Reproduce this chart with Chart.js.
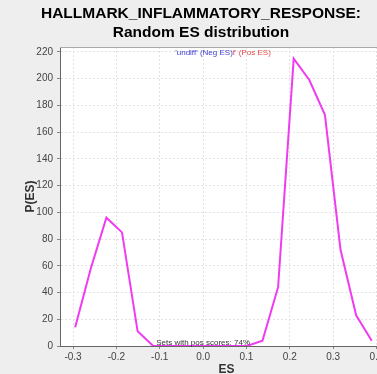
<!DOCTYPE html>
<html>
<head>
<meta charset="utf-8">
<script src="https://cdn.jsdelivr.net/npm/chart.js@4/dist/chart.umd.min.js"></script>
<style>
  html, body { margin: 0; padding: 0; background: #eeeeee; overflow: hidden; width: 377px; height: 374px; }
  #wrap { position: absolute; left: 0; top: 0; width: 420px; height: 374px; }
</style>
</head>
<body>
<div id="wrap"><canvas id="c" width="420" height="374"></canvas></div>
<script>
const titleLines = ["HALLMARK_INFLAMMATORY_RESPONSE:", "Random ES distribution"];
const esBins = [-0.295, -0.259, -0.223, -0.187, -0.151, -0.115, -0.079, -0.043, -0.007, 0.029, 0.065, 0.101, 0.137, 0.173, 0.209, 0.245, 0.281, 0.317, 0.353, 0.389];
const pES    = [14, 58, 96, 85, 11, 0, 0, 0, 0, 0, 0, 0, 4, 44, 215, 199, 173, 72, 23, 4];
const xTicks = [-0.3, -0.2, -0.1, 0.0, 0.1, 0.2, 0.3, 0.4];
const yTicks = [0, 20, 40, 60, 80, 100, 120, 140, 160, 180, 200, 220];
const legendNeg = "'undiff' (Neg ES)";
const legendPos = "f' (Pos ES)";
const noteText = "Sets with pos scores: 74%";

const points = esBins.map((x, i) => ({ x: x, y: pES[i] }));

const decor = {
  id: 'decor',
  beforeDraw(chart) {
    const { ctx, chartArea: a } = chart;
    ctx.save();
    ctx.fillStyle = '#ffffff';
    ctx.fillRect(a.left, a.top, a.right - a.left, a.bottom - a.top);
    ctx.restore();
  },
  afterDatasetsDraw(chart) {
    const { ctx, chartArea: a } = chart;
    ctx.save();
    ctx.strokeStyle = '#aaaaaa';
    ctx.lineWidth = 1;
    ctx.beginPath();
    ctx.moveTo(a.left, a.top + 0.5);
    ctx.lineTo(a.right, a.top + 0.5);
    ctx.stroke();
    // title
    ctx.fillStyle = '#000000';
    ctx.font = 'bold 15.5px "Liberation Sans", Arial, sans-serif';
    ctx.textAlign = 'center';
    ctx.textBaseline = 'middle';
    ctx.fillText(titleLines[0], 201, 14);
    ctx.fillText(titleLines[1], 201, 33);
    // legend text
    ctx.font = '8px "Liberation Sans", Arial, sans-serif';
    ctx.textAlign = 'left';
    const wNeg = ctx.measureText(legendNeg).width;
    const wPos = ctx.measureText(legendPos).width;
    const lx = 223 - (wNeg + wPos) / 2;
    ctx.fillStyle = '#3b3bd0';
    ctx.fillText(legendNeg, lx, 53);
    ctx.fillStyle = '#e04848';
    ctx.fillText(legendPos, lx + wNeg, 53);
    // note
    ctx.fillStyle = '#333333';
    ctx.textAlign = 'center';
    ctx.fillText(noteText, chart.scales.x.getPixelForValue(0.0), 343);
    ctx.restore();
  }
};

new Chart(document.getElementById('c'), {
  type: 'line',
  data: {
    datasets: [{
      data: points,
      borderColor: '#f03cf0',
      borderWidth: 2,
      pointRadius: 0,
      tension: 0,
      fill: false
    }]
  },
  options: {
    responsive: false,
    animation: false,
    layout: { padding: { top: 47, right: 27, left: 0, bottom: 0 } },
    plugins: { legend: { display: false }, tooltip: { enabled: false } },
    scales: {
      x: {
        type: 'linear',
        min: -0.33,
        max: 0.438,
        afterBuildTicks(s) { s.ticks = xTicks.map(v => ({ value: v })); },
        afterFit(s) { s.height = 28; },
        ticks: {
          color: '#444444',
          font: { family: '"Liberation Sans", Arial, sans-serif', size: 10 },
          padding: 2,
          maxRotation: 0,
          callback: (v) => v.toFixed(1)
        },
        grid: { color: '#e2e2e2', tickLength: 3, tickColor: '#888888', tickBorderDash: [] },
        border: { color: '#666666', width: 1, dash: [2, 2] },
        title: {
          display: true, text: 'ES', color: '#333333',
          font: { family: '"Liberation Sans", Arial, sans-serif', size: 12, weight: 'bold', lineHeight: 1 },
          padding: { top: 0, bottom: -2 }
        }
      },
      y: {
        min: 0,
        max: 223.7,
        afterBuildTicks(s) { s.ticks = yTicks.map(v => ({ value: v })); },
        afterFit(s) { s.width = 60; },
        ticks: {
          color: '#444444',
          font: { family: '"Liberation Sans", Arial, sans-serif', size: 10 },
          padding: 4
        },
        grid: { color: '#e2e2e2', tickLength: 3, tickColor: '#888888', tickBorderDash: [] },
        border: { color: '#666666', width: 1, dash: [2, 2] },
        title: {
          display: true, text: 'P(ES)', color: '#333333',
          font: { family: '"Liberation Sans", Arial, sans-serif', size: 12, weight: 'bold', lineHeight: 1 },
          padding: { top: 25, bottom: 0 }
        }
      }
    }
  },
  plugins: [decor]
});
</script>
</body>
</html>
